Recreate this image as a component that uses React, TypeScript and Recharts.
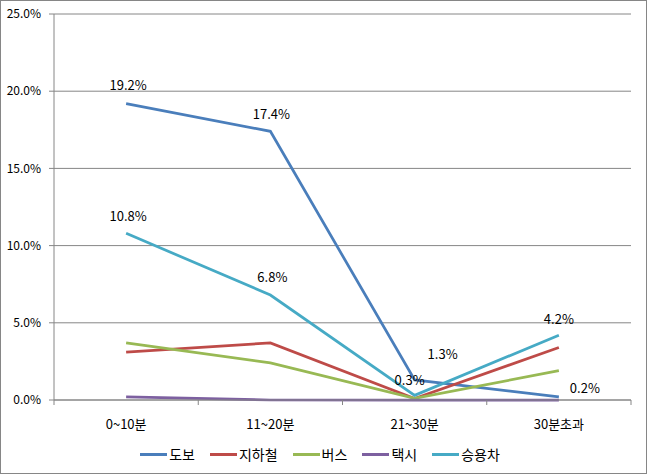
import React from 'react';
import {
  LineChart,
  Line,
  XAxis,
  YAxis,
  CartesianGrid,
  Legend,
  LabelList,
} from 'recharts';

const categories = ['0~10분', '11~20분', '21~30분', '30분초과'];
const walk = [19.2, 17.4, 1.3, 0.2];
const subway = [3.1, 3.7, 0.1, 3.4];
const bus = [3.7, 2.4, 0.1, 1.9];
const taxi = [0.2, 0, 0, 0];
const car = [10.8, 6.8, 0.3, 4.2];
const yTicks = [0, 5, 10, 15, 20, 25];

const FONT = "'Noto Sans CJK KR', 'Noto Sans', sans-serif";
const AXIS = '#868686';

const series = [
  { key: '도보', values: walk, color: '#4A7EBB' },
  { key: '지하철', values: subway, color: '#BE4B48' },
  { key: '버스', values: bus, color: '#98B954' },
  { key: '택시', values: taxi, color: '#7D60A0' },
  { key: '승용차', values: car, color: '#46AAC5' },
];

const data = categories.map((name, i) => {
  const row: Record<string, any> = { name };
  series.forEach((s) => (row[s.key] = s.values[i]));
  return row;
});

// label nudges per point (Excel places some labels by hand)
const walkLabelShift = [
  [2, -19],
  [1, -18],
  [28, -26],
  [26, -9],
];
const carLabelShift = [
  [2, -18],
  [2, -19],
  [-5, -16],
  [0, -17],
];

function makeLabel(shift: number[][]) {
  return (props: any) => {
    const { x, y, value, index } = props;
    const [dx, dy] = shift[index] ?? [0, -18];
    return (
      <text
        x={x + dx}
        y={y + dy}
        textAnchor="middle"
        dominantBaseline="central"
        fontSize={13}
        fontFamily={FONT}
        fill="#000"
      >
        {Number(value).toFixed(1)}%
      </text>
    );
  };
}

// category label + tick marks on the band boundaries (Excel style)
function CategoryTick(props: any) {
  const { x, y, payload } = props;
  const half = payload?.offset ?? 72;
  const last = payload?.index === categories.length - 1;
  return (
    <g>
      <line x1={x - half} y1={y} x2={x - half} y2={y + 5} stroke={AXIS} />
      {last && <line x1={x + half} y1={y} x2={x + half} y2={y + 5} stroke={AXIS} />}
      <text
        x={x}
        y={y + 23}
        textAnchor="middle"
        dominantBaseline="central"
        fontSize={13}
        fontFamily={FONT}
        fill="#000"
      >
        {payload.value}
      </text>
    </g>
  );
}

function LegendBox() {
  return (
    <div
      style={{
        height: 40,
        display: 'flex',
        alignItems: 'center',
        justifyContent: 'center',
        fontFamily: FONT,
        fontSize: 14,
        color: '#000',
        paddingLeft: 24,
      }}
    >
      {series.map((s) => (
        <div key={s.key} style={{ display: 'flex', alignItems: 'center', marginRight: 15 }}>
          <span
            style={{
              display: 'inline-block',
              width: 27,
              height: 3,
              background: s.color,
              marginRight: 2,
            }}
          />
          <span>{s.key}</span>
        </div>
      ))}
    </div>
  );
}

export default function App() {
  return (
    <div style={{ position: 'absolute', left: 0, top: 0, width: 647, height: 474, background: '#fff' }}>
      <LineChart
        width={647}
        height={474}
        data={data}
        margin={{ top: 14, right: 16, left: 0, bottom: 0 }}
      >
        <CartesianGrid
          horizontal
          vertical={false}
          stroke={AXIS}
          strokeWidth={1}
        />
        <XAxis
          dataKey="name"
          scale="band"
          height={34}
          axisLine={{ stroke: AXIS }}
          tickLine={false}
          tickSize={0}
          tickMargin={0}
          tick={<CategoryTick />}
          interval={0}
        />
        <YAxis
          width={54}
          domain={[0, 25]}
          ticks={yTicks}
          tickFormatter={(v: number) => `${v.toFixed(1)}%`}
          axisLine={{ stroke: AXIS }}
          tickLine={{ stroke: AXIS }}
          tickSize={5}
          tickMargin={8}
          tick={{ fontSize: 12, fontFamily: FONT, fill: '#000' }}
        />
        <Legend verticalAlign="bottom" height={40} content={() => <LegendBox />} />
        {series.map((s) => (
          <Line
            key={s.key}
            type="linear"
            dataKey={s.key}
            stroke={s.color}
            strokeWidth={2.75}
            dot={false}
            activeDot={false}
            isAnimationActive={false}
          >
            {s.key === '도보' && <LabelList dataKey={s.key} content={makeLabel(walkLabelShift)} />}
            {s.key === '승용차' && <LabelList dataKey={s.key} content={makeLabel(carLabelShift)} />}
          </Line>
        ))}
      </LineChart>
      <div
        style={{
          position: 'absolute',
          left: 0,
          top: 0,
          width: 647,
          height: 474,
          boxSizing: 'border-box',
          border: `1px solid ${AXIS}`,
          pointerEvents: 'none',
        }}
      />
    </div>
  );
}
